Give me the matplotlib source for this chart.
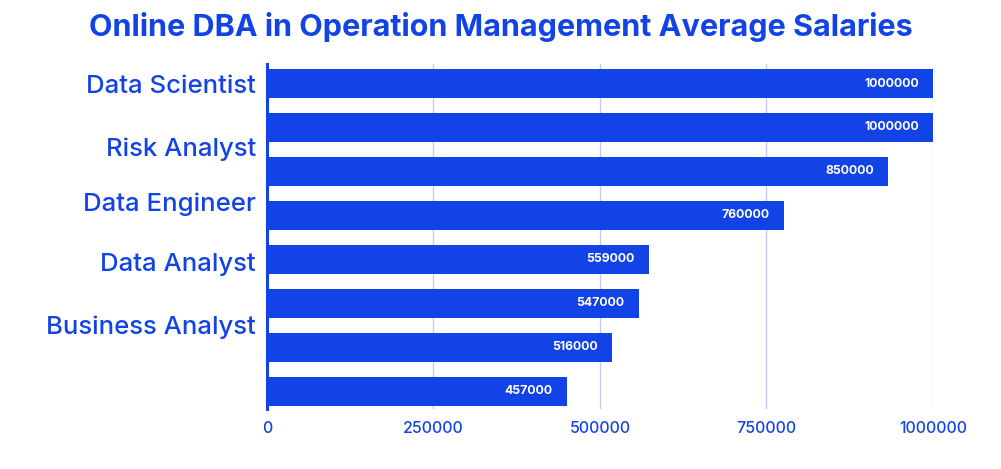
import matplotlib
matplotlib.use('Agg')
import matplotlib.pyplot as plt
from matplotlib.ticker import FixedLocator

# data
bar_values = [1000000, 1000000, 933000, 776000, 573000, 558000, 518000, 450000]
value_labels = ['1000000', '1000000', '850000', '760000', '559000', '547000', '516000', '457000']
role_labels = ['Data Scientist', 'Risk Analyst', 'Data Engineer', 'Data Analyst', 'Business Analyst']
role_positions = [0.01, 1.44, 2.68, 4.06, 5.49]
x_ticks = [0, 250000, 500000, 750000, 1000000]

blue = '#1243E6'
grid_blue = '#C3CBF2'

plt.rcParams['font.family'] = ['Inter', 'DejaVu Sans']

fig = plt.figure(figsize=(10.01, 4.69), dpi=100)
ax = fig.add_axes([0.2667, 0.128, 0.6653, 0.7355])

ypos = list(range(len(bar_values)))
ax.barh(ypos, bar_values, height=0.66, color=blue, zorder=3)

# value labels inside bar ends
for y, v, lab in zip(ypos, bar_values, value_labels):
    ax.annotate(lab, xy=(v, y), xytext=(-10, 0), textcoords='offset points',
                ha='right', va='center', color='white', fontsize=8.8, fontweight='bold', zorder=4)

ax.set_xlim(0, 1000000)
ax.set_ylim(7.4, -0.443)

ax.xaxis.set_major_locator(FixedLocator(x_ticks))
ax.set_xticklabels([str(t) for t in x_ticks])
ax.set_yticks(role_positions)
ax.set_yticklabels(role_labels)
ax.tick_params(axis='y', length=0, pad=8, labelsize=18.5, labelcolor=blue)
ax.tick_params(axis='x', length=0, pad=9, labelsize=11.5, labelcolor=blue)
for t in ax.get_yticklabels():
    t.set_fontweight('medium')
for t in ax.get_xticklabels():
    t.set_fontweight('medium')

ax.grid(axis='x', color=grid_blue, linewidth=1, zorder=0)
for s in ['top', 'right', 'bottom']:
    ax.spines[s].set_visible(False)
ax.spines['left'].set_color(blue)
ax.spines['left'].set_linewidth(2.2)
ax.spines['left'].set_zorder(5)

fig.text(0.5, 0.942, 'Online DBA in Operation Management Average Salaries',
         ha='center', va='center', color=blue, fontsize=22, fontweight='bold')

fig.savefig('out.png', dpi=100)
